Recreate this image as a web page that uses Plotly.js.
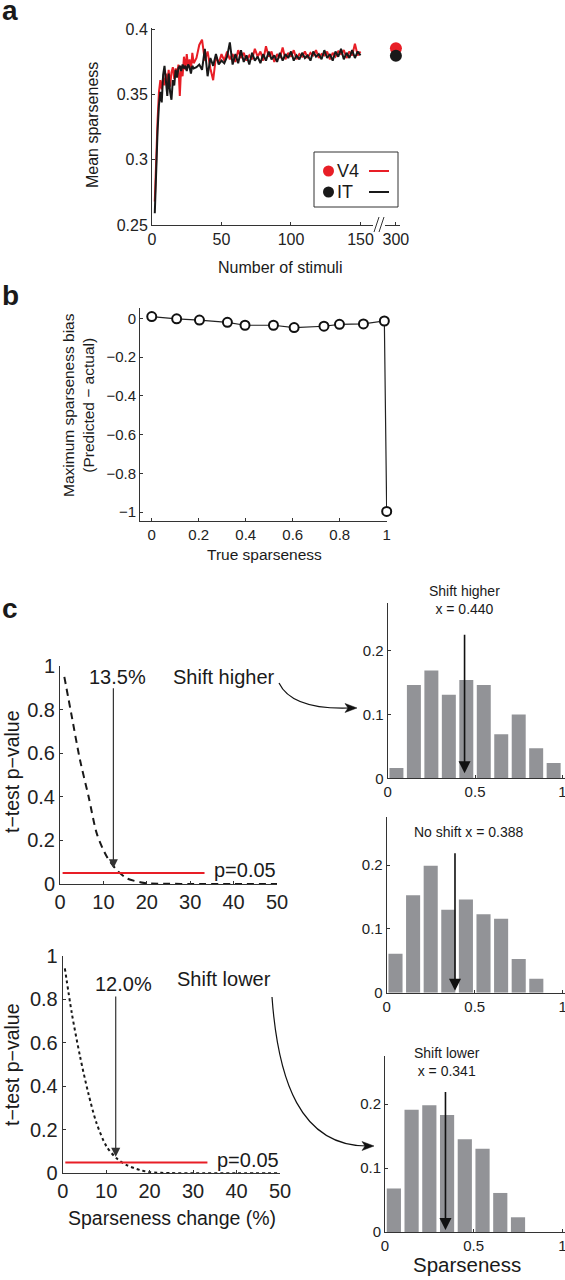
<!DOCTYPE html>
<html>
<head>
<meta charset="utf-8">
<script src="https://cdn.plot.ly/plotly-3.0.1.min.js"></script>
<style>html,body{margin:0;padding:0;background:#fff;}#chart{width:565px;height:1280px;}</style>
</head>
<body>
<div id="chart"></div>
<script>
// ---------- Panel a data ----------
const stimX = [2,3,4,5,6,7,8,9,10,11,12,13,14,15,16,17,18,19,20,21,22,23,24,25,26,27,28,29,30,
  32,34,36,38,40,42,44,46,48,50,52,54,56,58,60,62,64,66,68,70,72,74,76,78,80,82,84,86,88,90,
  92,94,96,98,100,102,104,106,108,110,112,114,116,118,120,122,124,126,128,130,132,134,136,138,140,142,144,146,148,150];
const v4Mean = [0.268,0.306,0.330,0.352,0.361,0.354,0.363,0.357,0.366,0.359,0.369,0.356,0.367,0.371,0.362,0.370,0.365,0.373,0.349,0.372,0.364,0.379,0.369,0.381,0.371,0.377,0.368,0.382,0.374,
  0.378,0.388,0.392,0.376,0.383,0.370,0.361,0.379,0.374,0.381,0.376,0.383,0.377,0.381,0.375,0.384,0.378,0.382,0.376,0.380,
  0.377,0.385,0.379,0.383,0.376,0.387,0.379,0.383,0.375,0.381,0.378,0.386,0.377,0.382,0.379,0.384,0.377,0.381,0.379,0.383,
  0.378,0.382,0.380,0.384,0.378,0.381,0.380,0.383,0.377,0.382,0.379,0.383,0.381,0.384,0.378,0.383,0.380,0.389,0.380,0.383];
const itMean = [0.259,0.296,0.322,0.342,0.352,0.344,0.365,0.372,0.357,0.349,0.366,0.352,0.346,0.361,0.357,0.369,0.363,0.370,0.372,0.368,0.373,0.370,0.372,0.368,0.373,0.371,0.366,0.372,0.370,
  0.371,0.373,0.369,0.385,0.364,0.378,0.372,0.381,0.373,0.376,0.374,0.379,0.390,0.373,0.381,0.374,0.384,0.375,0.380,0.373,
  0.382,0.376,0.379,0.374,0.381,0.376,0.383,0.377,0.380,0.375,0.382,0.376,0.381,0.378,0.383,0.376,0.380,0.377,0.382,0.378,
  0.380,0.376,0.383,0.379,0.381,0.377,0.384,0.378,0.381,0.376,0.383,0.379,0.385,0.377,0.382,0.378,0.384,0.378,0.383,0.380];
const fullSetX = [300];
const v4Full = [0.3854];
const itFull = [0.3798];

// ---------- Panel b data ----------
const trueSparse = [0,0.106,0.203,0.322,0.397,0.518,0.606,0.733,0.799,0.901,0.990,1.0];
const maxBias = [0.009,-0.003,-0.009,-0.021,-0.036,-0.036,-0.048,-0.041,-0.031,-0.029,-0.014,-0.997];

// ---------- Panel c data ----------
const changeHigh = [1,2.7,4.6,6.6,8.5,10.8,13.1,15.4,18.5,20,25,30,40,50];
const pHigh = [0.95,0.77,0.57,0.40,0.23,0.125,0.064,0.026,0.008,0.003,0.001,0,0,0];
const changeLow = [0.5,2.1,4.0,5.9,7.8,10.1,12.4,14.7,17.8,20.1,25,30,40,50];
const pLow = [0.943,0.736,0.537,0.368,0.23,0.123,0.069,0.038,0.015,0.005,0.001,0,0,0];
const threshX = [0.6,33.3];
const threshY = [0.05,0.05];
const arrowHighX = 12.3, arrowLowX = 12.2;

const binCenters = [0.05,0.15,0.25,0.35,0.45,0.55,0.65,0.75,0.85,0.95];
const histHigher = [0.016,0.146,0.169,0.131,0.154,0.146,0.069,0.100,0.047,0.024];
const histNoShift = [0.061,0.153,0.199,0.130,0.146,0.123,0.116,0.053,0.022,0];
const histLower = [0.068,0.191,0.198,0.183,0.145,0.130,0.061,0.023,0,0];
const meanHigher = 0.440, meanNoShift = 0.388, meanLower = 0.341;

// ---------- helpers ----------
const W = 565, H = 1280;
const FONT = 'Arial, "Liberation Sans", Helvetica, sans-serif';
const RED = 'rgb(232,30,38)';
const BLK = 'rgb(25,25,25)';
const GRAY = 'rgb(146,147,151)';
const P = x => x / W;
const Q = y => 1 - y / H;
const dx = (a, b) => [P(a), P(b)];
const dy = (top, bottom) => [Q(bottom), Q(top)];

function axis(o) {
  return Object.assign({
    showgrid: false, zeroline: false, showline: true, linecolor: '#333', linewidth: 1,
    ticks: 'inside', ticklen: 3, tickcolor: '#333', tickwidth: 1, ticklabeloverflow: 'allow',
    tickfont: {family: FONT, size: 15, color: '#222'}, fixedrange: true
  }, o);
}
function txt(s, x, y, size, o) {
  return Object.assign({
    text: s, x: P(x), y: Q(y), xref: 'paper', yref: 'paper', showarrow: false,
    font: {family: FONT, size: size, color: '#1a1a1a'}, xanchor: 'center', yanchor: 'middle'
  }, o || {});
}
function svgPath(parts) {
  return parts.map(p => p[0] + p.slice(1).map(pt => P(pt[0]).toFixed(5) + ',' + Q(pt[1]).toFixed(5)).join(' ')).join(' ');
}

const traces = [
  // panel a
  {x: stimX, y: v4Mean, xaxis: 'x', yaxis: 'y', mode: 'lines', line: {color: RED, width: 2}, hoverinfo: 'skip'},
  {x: stimX, y: itMean, xaxis: 'x', yaxis: 'y', mode: 'lines', line: {color: BLK, width: 2}, hoverinfo: 'skip'},
  {x: fullSetX, y: v4Full, xaxis: 'x2', yaxis: 'y', mode: 'markers', marker: {color: RED, size: 12}, cliponaxis: false},
  {x: fullSetX, y: itFull, xaxis: 'x2', yaxis: 'y', mode: 'markers', marker: {color: BLK, size: 12}, cliponaxis: false},
  // panel b
  {x: trueSparse, y: maxBias, xaxis: 'x3', yaxis: 'y3', mode: 'lines+markers', cliponaxis: false,
   line: {color: '#222', width: 1.2}, marker: {symbol: 'circle', size: 9, color: '#fff', line: {color: '#111', width: 2}}},
  // panel c left
  {x: changeHigh, y: pHigh, xaxis: 'x4', yaxis: 'y4', mode: 'lines', line: {color: BLK, width: 2, dash: '7px,5px', shape: 'spline', smoothing: 0.8}},
  {x: threshX, y: threshY, xaxis: 'x4', yaxis: 'y4', mode: 'lines', line: {color: RED, width: 2}},
  {x: changeLow, y: pLow, xaxis: 'x5', yaxis: 'y5', mode: 'lines', line: {color: BLK, width: 2, dash: '3px,3px', shape: 'spline', smoothing: 0.8}},
  {x: threshX, y: threshY, xaxis: 'x5', yaxis: 'y5', mode: 'lines', line: {color: RED, width: 2}},
  // histograms
  {type: 'bar', x: binCenters, y: histHigher, width: 0.08, xaxis: 'x6', yaxis: 'y6', marker: {color: GRAY, line: {width: 0}}},
  {type: 'bar', x: binCenters, y: histNoShift, width: 0.08, xaxis: 'x7', yaxis: 'y7', marker: {color: GRAY, line: {width: 0}}},
  {type: 'bar', x: binCenters, y: histLower, width: 0.08, xaxis: 'x8', yaxis: 'y8', marker: {color: GRAY, line: {width: 0}}}
];

const layout = {
  width: W, height: H, autosize: false, showlegend: false,
  margin: {l: 0, r: 0, t: 0, b: 0, pad: 0},
  paper_bgcolor: '#fff', plot_bgcolor: 'rgba(0,0,0,0)',
  font: {family: FONT, color: '#222'},
  // panel a
  xaxis: axis({domain: dx(152, 373), range: [0, 159], anchor: 'y', tickvals: [0, 50, 100, 150], tickfont: {family: FONT, size: 16, color: '#222'}}),
  xaxis2: axis({domain: dx(385, 400), range: [292, 303], anchor: 'y', tickvals: [300], tickfont: {family: FONT, size: 16, color: '#222'}}),
  yaxis: axis({domain: dy(28, 225), range: [0.25, 0.401], anchor: 'x', tickvals: [0.25, 0.3, 0.35, 0.4], ticktext: ['0.25', '0.3', '0.35', '0.4'], tickfont: {family: FONT, size: 16, color: '#222'}}),
  // panel b
  xaxis3: axis({domain: dx(140, 387), range: [-0.05, 1.0013], anchor: 'y3', tickvals: [0, 0.2, 0.4, 0.6, 0.8, 1]}),
  yaxis3: axis({domain: dy(308, 521), range: [-1.0464, 0.0531], anchor: 'x3', tickvals: [0, -0.2, -0.4, -0.6, -0.8, -1]}),
  // panel c left
  xaxis4: axis({domain: dx(60, 277), range: [0, 50], anchor: 'y4', tickvals: [0, 10, 20, 30, 40, 50], tickfont: {family: FONT, size: 20, color: '#222'}}),
  yaxis4: axis({domain: dy(666, 884), range: [0, 1], anchor: 'x4', tickvals: [0, 0.2, 0.4, 0.6, 0.8, 1], tickfont: {family: FONT, size: 20, color: '#222'}}),
  xaxis5: axis({domain: dx(62.7, 280), range: [0, 50], anchor: 'y5', tickvals: [0, 10, 20, 30, 40, 50], tickfont: {family: FONT, size: 20, color: '#222'}}),
  yaxis5: axis({domain: dy(956, 1173.3), range: [0, 1], anchor: 'x5', tickvals: [0, 0.2, 0.4, 0.6, 0.8, 1], tickfont: {family: FONT, size: 20, color: '#222'}}),
  // histograms
  xaxis6: axis({domain: dx(387.7, 565), range: [0, 1.015], anchor: 'y6', tickvals: [0, 0.5, 1]}),
  yaxis6: axis({domain: dy(602.7, 778.3), range: [0, 0.275], anchor: 'x6', tickvals: [0, 0.1, 0.2]}),
  xaxis7: axis({domain: dx(386.7, 565), range: [0, 1.013], anchor: 'y7', tickvals: [0, 0.5, 1]}),
  yaxis7: axis({domain: dy(816.7, 992.7), range: [0, 0.276], anchor: 'x7', tickvals: [0, 0.1, 0.2]}),
  xaxis8: axis({domain: dx(385, 565), range: [0, 1.015], anchor: 'y8', tickvals: [0, 0.5, 1]}),
  yaxis8: axis({domain: dy(1056, 1232), range: [0, 0.275], anchor: 'x8', tickvals: [0, 0.1, 0.2]}),
  annotations: [
    // panel labels
    txt('<b>a</b>', 10, 10, 28),
    txt('<b>b</b>', 10, 296, 28),
    txt('<b>c</b>', 10, 608, 28),
    // panel a titles
    txt('Mean sparseness', 92, 125, 16, {textangle: -90}),
    txt('Number of stimuli', 280, 267, 16),
    // panel a legend
    txt('V4', 348, 171, 18),
    txt('IT', 345, 192, 18),
    // panel b titles
    txt('Maximum sparseness bias<br>(Predicted − actual)', 78, 405, 15.5, {textangle: -90}),
    txt('True sparseness', 264, 554, 15.5),
    // panel c left texts
    txt('t−test p−value', 12, 772, 19.5, {textangle: -90}),
    txt('t−test p−value', 12, 1065, 19.5, {textangle: -90}),
    txt('Sparseness change (%)', 172, 1218, 19.5),
    txt('13.5%', 117, 677, 20),
    txt('Shift higher', 224, 677, 20),
    txt('p=0.05', 245, 870, 20),
    txt('12.0%', 123, 984, 20),
    txt('Shift lower', 224, 979, 20),
    txt('p=0.05', 248, 1160, 20),
    // histogram texts
    txt('Shift higher<br>x = 0.440', 465, 600, 14),
    txt('No shift x = 0.388', 469, 832, 14),
    txt('Shift lower<br>x = 0.341', 447, 1062, 14),
    txt('Sparseness', 467, 1264, 20.5),
    // vertical arrows (panel c left)
    {x: arrowHighX, y: 0.072, ax: arrowHighX, ay: 0.905, xref: 'x4', yref: 'y4', axref: 'x4', ayref: 'y4', text: '',
     showarrow: true, arrowhead: 2, arrowsize: 1.5, arrowwidth: 1.2, arrowcolor: '#333'},
    {x: arrowLowX, y: 0.076, ax: arrowLowX, ay: 0.82, xref: 'x5', yref: 'y5', axref: 'x5', ayref: 'y5', text: '',
     showarrow: true, arrowhead: 2, arrowsize: 1.5, arrowwidth: 1.2, arrowcolor: '#333'},
    // histogram arrows
    {x: meanHigher, y: 0.008, ax: meanHigher, ay: 0.227, xref: 'x6', yref: 'y6', axref: 'x6', ayref: 'y6', text: '',
     showarrow: true, arrowhead: 2, arrowsize: 1.5, arrowwidth: 1.6, arrowcolor: '#111'},
    {x: meanNoShift, y: 0.003, ax: meanNoShift, ay: 0.221, xref: 'x7', yref: 'y7', axref: 'x7', ayref: 'y7', text: '',
     showarrow: true, arrowhead: 2, arrowsize: 1.5, arrowwidth: 1.6, arrowcolor: '#111'},
    {x: meanLower, y: 0.003, ax: meanLower, ay: 0.221, xref: 'x8', yref: 'y8', axref: 'x8', ayref: 'y8', text: '',
     showarrow: true, arrowhead: 2, arrowsize: 1.5, arrowwidth: 1.6, arrowcolor: '#111'}
  ],
  shapes: [
    // axis break marks (panel a)
    {type: 'line', xref: 'paper', yref: 'paper', x0: P(374), y0: Q(232), x1: P(379), y1: Q(217), line: {color: '#333', width: 1}},
    {type: 'line', xref: 'paper', yref: 'paper', x0: P(379), y0: Q(232), x1: P(384), y1: Q(217), line: {color: '#333', width: 1}},
    // legend box
    {type: 'rect', xref: 'paper', yref: 'paper', x0: P(314), y0: Q(207), x1: P(398), y1: Q(152), line: {color: '#333', width: 1}, fillcolor: '#fff', layer: 'above'},
    {type: 'circle', xref: 'paper', yref: 'paper', x0: P(323), y0: Q(176.5), x1: P(334), y1: Q(165.5), fillcolor: RED, line: {width: 0}},
    {type: 'circle', xref: 'paper', yref: 'paper', x0: P(323), y0: Q(197.5), x1: P(334), y1: Q(186.5), fillcolor: BLK, line: {width: 0}},
    {type: 'line', xref: 'paper', yref: 'paper', x0: P(369), y0: Q(171), x1: P(389), y1: Q(171), line: {color: RED, width: 2}},
    {type: 'line', xref: 'paper', yref: 'paper', x0: P(369), y0: Q(192), x1: P(389), y1: Q(192), line: {color: BLK, width: 2}},
    // curved arrow: shift higher
    {type: 'path', xref: 'paper', yref: 'paper', path: svgPath([['M', [279, 683]], ['Q', [292, 710], [350, 708]]]), line: {color: '#111', width: 1.2}},
    {type: 'path', xref: 'paper', yref: 'paper', path: svgPath([['M', [357, 708]], ['L', [345, 703.5]], ['L', [348, 708]], ['L', [345, 712.5]], ['Z']]), fillcolor: '#111', line: {color: '#111', width: 0.5}},
    // curved arrow: shift lower
    {type: 'path', xref: 'paper', yref: 'paper', path: svgPath([['M', [272, 997]], ['C', [278, 1080], [300, 1146], [367, 1146]]]), line: {color: '#111', width: 1.2}},
    {type: 'path', xref: 'paper', yref: 'paper', path: svgPath([['M', [374, 1146]], ['L', [362, 1141.5]], ['L', [365, 1146]], ['L', [362, 1150.5]], ['Z']]), fillcolor: '#111', line: {color: '#111', width: 0.5}}
  ]
};

Plotly.newPlot('chart', traces, layout, {staticPlot: true, displayModeBar: false});
</script>
</body>
</html>
